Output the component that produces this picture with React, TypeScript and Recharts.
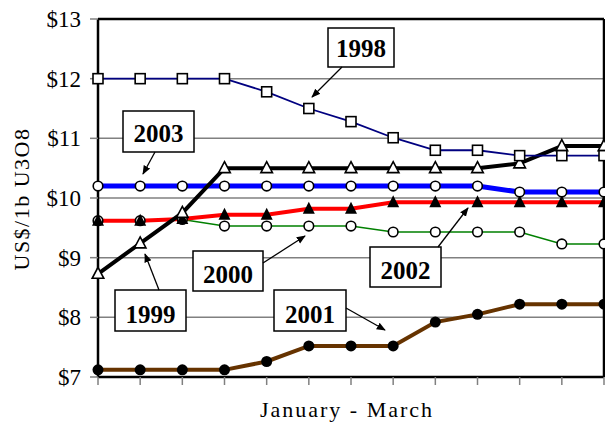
import React from 'react'
import { CartesianGrid, Line, LineChart, ReferenceLine, XAxis, YAxis } from 'recharts'

// weekly spot price readings, January - March
const weeks = ['1', '2', '3', '4', '5', '6', '7', '8', '9', '10', '11', '12', '13'];
const yTicks = [7, 8, 9, 10, 11, 12, 13];

const p1998 = [12, 12, 12, 12, 11.78, 11.5, 11.28, 11.01, 10.8, 10.8, 10.71, 10.71, 10.71];
const p1999 = [8.73, 9.24, 9.75, 10.5, 10.5, 10.5, 10.5, 10.5, 10.5, 10.5, 10.58, 10.87, 10.87];
const p2000 = [9.62, 9.62, 9.64, 9.53, 9.53, 9.53, 9.53, 9.43, 9.43, 9.43, 9.43, 9.23, 9.23];
const p2001 = [7.12, 7.12, 7.12, 7.12, 7.26, 7.52, 7.52, 7.52, 7.92, 8.05, 8.22, 8.22, 8.22];
const p2002 = [9.62, 9.62, 9.65, 9.72, 9.72, 9.82, 9.82, 9.93, 9.93, 9.93, 9.93, 9.93, 9.93];
const p2003 = [10.2, 10.2, 10.2, 10.2, 10.2, 10.2, 10.2, 10.2, 10.2, 10.2, 10.1, 10.1, 10.1];

const chartData = weeks.map((w, i) => ({
    week: w,
    y1998: p1998[i],
    y1999: p1999[i],
    y2000: p2000[i],
    y2001: p2001[i],
    y2002: p2002[i],
    y2003: p2003[i],
}));

const serif = '"Liberation Serif", "Times New Roman", serif';

const Square = (props: any) => {
    const { cx, cy, index } = props;
    return <rect key={'sq' + index} x={cx - 5} y={cy - 5} width={10} height={10} fill="#fff" stroke="#000" strokeWidth={1.6} />
}

const OpenCircle = (props: any) => {
    const { cx, cy, index } = props;
    return <circle key={'oc' + index} cx={cx} cy={cy} r={4.8} fill="#fff" stroke="#000" strokeWidth={1.6} />
}

const DotFilled = (props: any) => {
    const { cx, cy, index } = props;
    return <circle key={'fc' + index} cx={cx} cy={cy} r={5.5} fill="#000" />
}

const OpenTriangle = (props: any) => {
    const { cx, cy, index } = props;
    const pts = `${cx},${cy - 6.5} ${cx + 5.8},${cy + 4.5} ${cx - 5.8},${cy + 4.5}`;
    return <polygon key={'ot' + index} points={pts} fill="#fff" stroke="#000" strokeWidth={1.6} />
}

const FilledTriangle = (props: any) => {
    const { cx, cy, index } = props;
    const pts = `${cx},${cy - 7} ${cx + 6},${cy + 5} ${cx - 6},${cy + 5}`;
    return <polygon key={'ft' + index} points={pts} fill="#000" />
}

// x ticks carry no labels, only the small marks
const NoLabel = () => <g />

// call-out boxes: [label, box x, y, w, h, text baseline, arrow from x, y, arrow to x, y]
type Note = [string, number, number, number, number, number, number, number, number, number];
const notes: Note[] = [
    ['1998', 328, 28, 66, 39, 57, 342, 67, 312, 97],
    ['2003', 123, 111, 71, 41, 142, 155, 152, 143, 174],
    ['1999', 115, 290, 71, 41, 323, 159, 290, 145, 254],
    ['2000', 193, 251, 70, 40, 283, 263, 263, 305, 236],
    ['2002', 370, 247, 71, 40, 279, 438, 247, 468, 208],
    ['2001', 274, 290, 72, 41, 323, 346, 308, 385, 330],
];

const Overlay = () => (
    <svg width={605} height={424} style={{ position: 'absolute', left: 0, top: 0, pointerEvents: 'none' }}>
        <defs>
            <marker id="arr" viewBox="0 0 10 10" refX={9} refY={5} markerWidth={7} markerHeight={7} orient="auto">
                <path d="M0,1 L10,5 L0,9 z" fill="#000" />
            </marker>
        </defs>
        {notes.map(([t, x, y, w, h, base, x1, y1, x2, y2]) => (
            <g key={t}>
                <rect x={x} y={y} width={w} height={h} fill="#fff" stroke="#000" strokeWidth={1.5} />
                <text x={x + w / 2} y={base} textAnchor="middle" fontFamily={serif} fontWeight="bold" fontSize={25} fill="#000">{t}</text>
                <line x1={x1} y1={y1} x2={x2} y2={y2} stroke="#000" strokeWidth={1.3} markerEnd="url(#arr)" />
            </g>
        ))}
        <text transform="translate(29,199) rotate(-90)" textAnchor="middle" fontFamily={serif} fontSize={22} letterSpacing={1.5} fill="#000">US$/1b U3O8</text>
        <text x={347} y={417} textAnchor="middle" fontFamily={serif} fontSize={22} letterSpacing={2} fill="#000">January - March</text>
    </svg>
)

const App = () => {
    return (
        <div style={{ position: 'absolute', left: 0, top: 0, width: 605, height: 424, background: '#fff' }}>
            <LineChart width={605} height={424} data={chartData} margin={{ top: 19, right: 1, left: 0, bottom: 0 }}>
                <CartesianGrid vertical={false} stroke="#808080" strokeWidth={1.5} />
                <XAxis
                    dataKey="week"
                    scale="point"
                    padding={{ left: 0, right: 0 }}
                    height={47}
                    tick={NoLabel}
                    tickSize={8}
                    tickLine={{ stroke: '#808080', strokeWidth: 1.5 }}
                    axisLine={{ stroke: '#000', strokeWidth: 2.5 }}
                />
                <YAxis
                    domain={[7, 13]}
                    ticks={yTicks}
                    width={98}
                    tickSize={8}
                    tickMargin={9}
                    tickLine={{ stroke: '#808080', strokeWidth: 1.5 }}
                    axisLine={{ stroke: '#000', strokeWidth: 2.5 }}
                    tick={{ fill: '#000', fontSize: 23, fontFamily: serif }}
                    tickFormatter={(v) => `$${v}`}
                />
                <ReferenceLine y={13} stroke="#000" strokeWidth={2.5} />
                <ReferenceLine x={weeks[weeks.length - 1]} stroke="#000" strokeWidth={2.5} />
                <Line dataKey="y2001" stroke="#663300" strokeWidth={4} dot={DotFilled} isAnimationActive={false} />
                <Line dataKey="y2000" stroke="#008000" strokeWidth={1.6} dot={OpenCircle} isAnimationActive={false} />
                <Line dataKey="y2002" stroke="#ff0000" strokeWidth={4} dot={FilledTriangle} isAnimationActive={false} />
                <Line dataKey="y2003" stroke="#0000ff" strokeWidth={5} dot={OpenCircle} isAnimationActive={false} />
                <Line dataKey="y1999" stroke="#000" strokeWidth={4} dot={OpenTriangle} isAnimationActive={false} />
                <Line dataKey="y1998" stroke="#000080" strokeWidth={1.8} dot={Square} isAnimationActive={false} />
            </LineChart>
            <Overlay />
        </div>
    )
}

export default App;
